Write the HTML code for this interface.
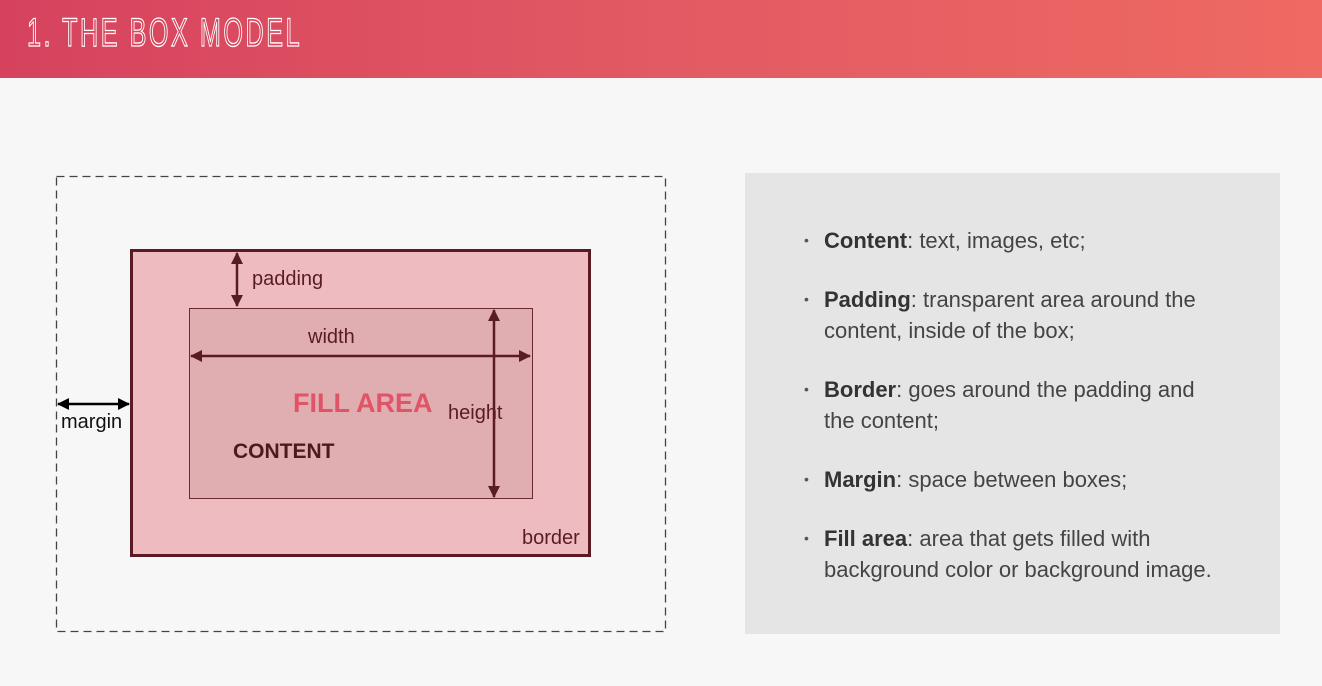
<!DOCTYPE html>
<html><head><style>
body{margin:0;width:1322px;height:686px;background:#f7f7f7;font-family:"Liberation Sans",sans-serif;position:relative;overflow:hidden}
.hdr{position:absolute;left:0;top:0;width:1322px;height:78px;background:linear-gradient(90deg,#d6425e,#e25a63 50%,#ee6a62)}
.hdr span{position:absolute;left:27px;top:11px;font-size:40px;color:#d8455e;letter-spacing:4px;-webkit-text-stroke:1.3px #fff;transform:scaleX(.63);transform-origin:left}
.a{position:absolute}
.panel{position:absolute;left:745px;top:173px;width:535px;height:461px;background:#e5e5e5}
.li{position:absolute;left:824px;font-size:22px;color:#444;line-height:31px}
.li b{color:#333;font-weight:bold}
.li:before{content:"•";position:absolute;left:-20px;font-size:14px;color:#555}
.lbl{position:absolute;font-size:20px;color:#5a1c24}
</style></head><body>
<div class="hdr"><span>1. THE BOX MODEL</span></div>
<svg class="a" style="left:0;top:0" width="700" height="686">
<rect x="56.5" y="176.5" width="609" height="455" fill="none" stroke="#444" stroke-width="1.3" stroke-dasharray="8,5"/>
</svg>
<div class="a" style="left:130px;top:249px;width:455px;height:302px;border:3px solid #5a1a22;background:#edbbc0"></div>
<div class="a" style="left:189px;top:308px;width:342px;height:189px;border:1px solid #6a2a30;background:#e0adb1"></div>
<svg class="a" style="left:0;top:0" width="700" height="686">
<defs><marker id="m" markerWidth="12" markerHeight="12" refX="11" refY="6" orient="auto-start-reverse" markerUnits="userSpaceOnUse"><path d="M0,0L12,6L0,12z" fill="#5a1c24"/></marker>
<marker id="k" markerWidth="12" markerHeight="12" refX="11" refY="6" orient="auto-start-reverse" markerUnits="userSpaceOnUse"><path d="M0,0L12,6L0,12z" fill="#000"/></marker></defs>
<line x1="237" y1="253" x2="237" y2="306" stroke="#5a1c24" stroke-width="2.5" marker-start="url(#m)" marker-end="url(#m)"/>
<line x1="191" y1="356" x2="530" y2="356" stroke="#5a1c24" stroke-width="2.5" marker-start="url(#m)" marker-end="url(#m)"/>
<line x1="494" y1="310" x2="494" y2="497" stroke="#5a1c24" stroke-width="2.5" marker-start="url(#m)" marker-end="url(#m)"/>
<line x1="58" y1="404" x2="129" y2="404" stroke="#000" stroke-width="2.5" marker-start="url(#k)" marker-end="url(#k)"/>
</svg>
<div class="lbl" style="left:252px;top:268px">padding</div>
<div class="lbl" style="left:308px;top:326px">width</div>
<div class="lbl" style="left:448px;top:402px">height</div>
<div class="lbl" style="left:61px;top:411px;color:#111">margin</div>
<div class="lbl" style="left:522px;top:527px">border</div>
<div class="a" style="left:293px;top:388px;font-size:27px;font-weight:bold;color:#e05468">FILL AREA</div>
<div class="a" style="left:233px;top:440px;font-size:21px;font-weight:bold;color:#4a1a20">CONTENT</div>
<div class="panel"></div>
<div class="li" style="top:225px"><b>Content</b>: text, images, etc;</div>
<div class="li" style="top:284px"><b>Padding</b>: transparent area around the<br>content, inside of the box;</div>
<div class="li" style="top:374px"><b>Border</b>: goes around the padding and<br>the content;</div>
<div class="li" style="top:464px"><b>Margin</b>: space between boxes;</div>
<div class="li" style="top:523px"><b>Fill area</b>: area that gets filled with<br>background color or background image.</div>
</body></html>
